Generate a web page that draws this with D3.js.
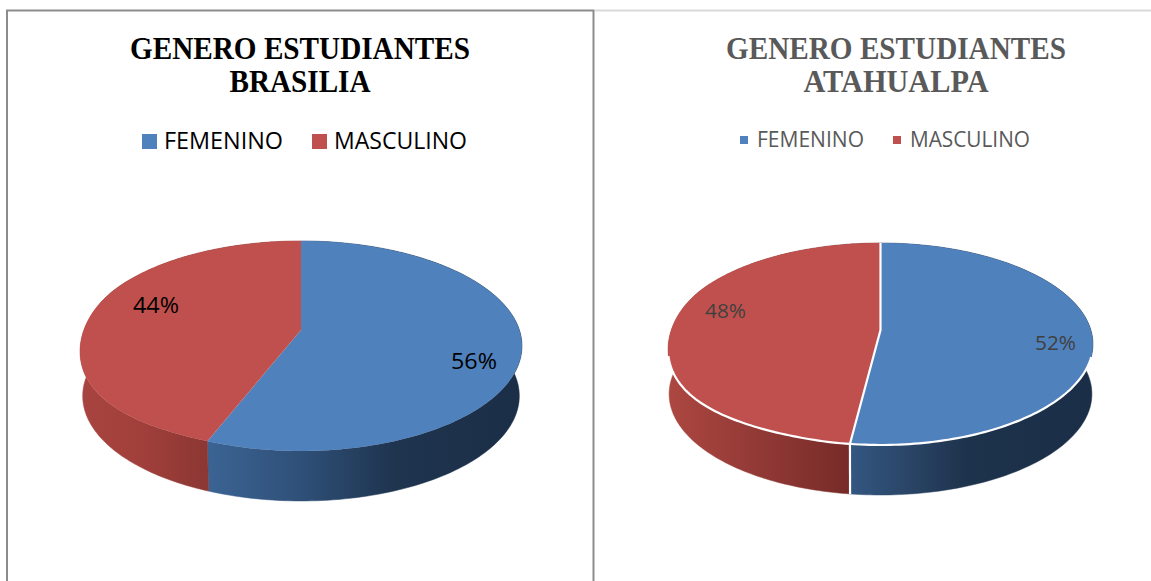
<!DOCTYPE html>
<html><head><meta charset="utf-8">
<script src="https://cdn.jsdelivr.net/npm/d3@7"></script>
<style>html,body{margin:0;padding:0;background:#fff;overflow:hidden}svg{display:block}</style>
</head><body><svg id="c" width="1151" height="581"></svg>
<script>
const categories = ["FEMENINO", "MASCULINO"];
const brasiliaValues = [56, 44];
const atahualpaValues = [52, 48];
const titleTop = "GENERO ESTUDIANTES";
const brasiliaTitle = "BRASILIA";
const atahualpaTitle = "ATAHUALPA";
const topColors = ["#4f81bd", "#c0504d"];

const svg = d3.select("#c");
const defs = svg.append("defs");
function grad(id, x1, x2, stops){
  const g = defs.append("linearGradient").attr("id", id).attr("gradientUnits","userSpaceOnUse")
    .attr("x1",x1).attr("x2",x2).attr("y1",0).attr("y2",0);
  stops.forEach(s=>g.append("stop").attr("offset",s[0]).attr("stop-color",s[1]));
  return `url(#${id})`;
}
const pie = d3.pie().sort(null).value(d=>d);
const line = d3.line();

function drawPie(cfg){
  // the top face sags slightly on its lower-left side, as the source's skewed render does
  const sag = (t) => {
    const u = (t - Math.PI - 0.3) / (Math.PI/2 + 0.2);
    return (u > 0 && u < 1) ? 6.5 * Math.pow(Math.sin(Math.PI*u), 2) : 0;
  };
  const P = (t, s=1, dy=0) => {
    const den = 1 + cfg.k*Math.cos(t);
    return [cfg.cx + s*cfg.A*Math.sin(t)/den, cfg.vy + dy - cfg.B*Math.cos(t)/den + (dy === 0 ? sag(t) : 0)];
  };
  const g = svg.append("g");
  const arcs = pie(cfg.values);
  const samples = (a) => d3.range(0,161).map(i=>a.startAngle+(a.endAngle-a.startAngle)*i/160);
  // walls
  arcs.forEach((a,i)=>{
    const ts = samples(a);
    const pts = ts.map(t=>P(t)).concat(ts.slice().reverse().map(t=>P(t,cfg.bs,cfg.depth)));
    g.append("path").attr("d",line(pts)+"Z").attr("fill",cfg.sideFill[i])
      .attr("stroke",cfg.sideFill[i]).attr("stroke-width",0.5);
  });
  if(cfg.stroke){
    const t=arcs[0].endAngle;
    g.append("path").attr("d",line([P(t),P(t,cfg.bs,cfg.depth)])).attr("stroke",cfg.stroke).attr("stroke-width",cfg.sw).attr("fill","none");
  }
  // top
  arcs.forEach((a,i)=>{
    const pts = [[cfg.cx,cfg.vy]].concat(samples(a).map(t=>P(t)));
    g.append("path").attr("d",line(pts)+"Z").attr("fill",topColors[i]);
  });
  if(cfg.stroke){
    arcs.forEach((a)=>{
      const front = samples(a).filter(t=>P(t)[1]>cfg.vy+26);
      g.append("path").attr("d",line(front.map(t=>P(t)))).attr("fill","none").attr("stroke",cfg.stroke).attr("stroke-width",cfg.sw);
    });
    g.append("path").attr("d",line([[cfg.cx,P(0)[1]],[cfg.cx,cfg.vy],P(arcs[0].endAngle)])).attr("fill","none")
      .attr("stroke",cfg.stroke).attr("stroke-width",cfg.sw);
  }
  // labels
  cfg.values.forEach((v,i)=>{
    g.append("text").attr("x",cfg.lx[i]).attr("y",cfg.ly[i]).attr("text-anchor","middle")
      .attr("font-family","'Open Sans',sans-serif").attr("font-size",cfg.labelSize)
      .attr("textLength",cfg.labelW).attr("lengthAdjust","spacingAndGlyphs")
      .attr("fill",cfg.labelColor).text(v+"%");
  });
  // title
  [titleTop,cfg.title].forEach((t,i)=>{
    svg.append("text").attr("transform",`translate(${cfg.tx},${59+33*i}) scale(1,1.1)`).attr("text-anchor","middle")
      .attr("font-family","'Liberation Serif',serif").attr("font-weight","bold").attr("font-size",29)
      .attr("textLength",cfg.titleW[i]).attr("lengthAdjust","spacingAndGlyphs")
      .attr("fill",cfg.titleColor).text(t);
  });
  // legend
  categories.forEach((c,i)=>{
    svg.append("rect").attr("x",cfg.sx[i]).attr("y",cfg.sy).attr("width",cfg.ss).attr("height",cfg.ss).attr("fill",topColors[i]);
    svg.append("text").attr("x",cfg.tlx[i]).attr("y",cfg.legY).attr("font-family","'Open Sans',sans-serif")
      .attr("font-size",cfg.legSize).attr("fill",cfg.legColor).attr("textLength",cfg.tlw[i]).attr("lengthAdjust","spacingAndGlyphs").text(c);
  });
}

// frames
svg.append("line").attr("x1",595).attr("x2",1151).attr("y1",10.5).attr("y2",10.5).attr("stroke","#d9d9d9").attr("stroke-width",2);
svg.append("path").attr("d","M7,581V10.5H593.5V581").attr("fill","none").attr("stroke","#8c8c8c").attr("stroke-width",2);

drawPie({
  values:brasiliaValues,title:brasiliaTitle,cx:301,vy:330,A:218.4,B:102.6,k:0.152,depth:50,bs:0.988,
  sideFill:[
    grad("b1",206,520,[[0,"#3b6494"],[0.3,"#2f5078"],[0.6,"#1f344f"],[1,"#1b2e47"]]),
    grad("r1",82,206,[[0,"#a8443f"],[0.5,"#a03f3b"],[1,"#8c3733"]])
  ],
  lx:[474,156],ly:[369,313],labelSize:22,labelW:46,labelColor:"#000",
  tx:300,titleW:[340,141],titleColor:"#000",
  sx:[142,312],sy:134,ss:15,tlx:[164,334],tlw:[119,133],legY:149,legSize:23,legColor:"#000"
});
drawPie({
  values:atahualpaValues,title:atahualpaTitle,cx:880.5,vy:330,A:210.4,B:99.06,k:0.1386,depth:50,bs:0.995,
  sideFill:[
    grad("b2",848,1090,[[0,"#335882"],[0.25,"#2a4567"],[0.5,"#1d324b"],[1,"#1b2e47"]]),
    grad("r2",670,848,[[0,"#ac4640"],[0.4,"#973c38"],[1,"#772b28"]])
  ],
  stroke:"#fff",sw:2.2,
  lx:[1055.5,725.5],ly:[350,318],labelSize:20,labelW:41,labelColor:"#404040",
  tx:896,titleW:[340,185],titleColor:"#595959",
  sx:[740,893],sy:136,ss:8,tlx:[757,910],tlw:[107,120],legY:147,legSize:21,legColor:"#595959"
});
</script></body></html>
